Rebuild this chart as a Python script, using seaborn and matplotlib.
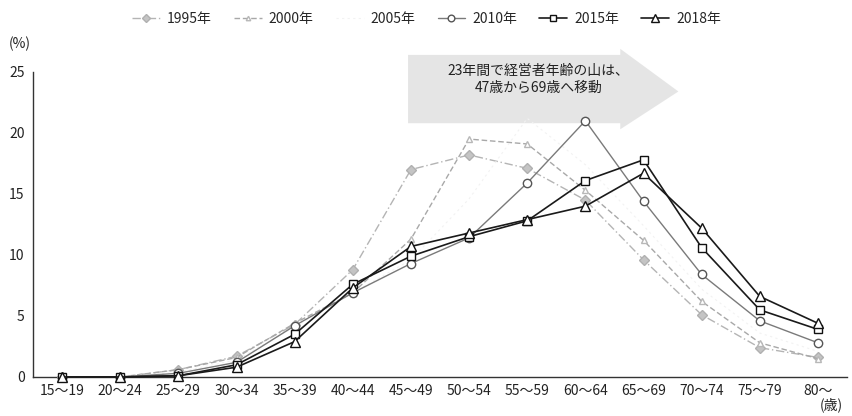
import matplotlib
matplotlib.use("Agg")
import matplotlib.pyplot as plt
import seaborn as sns
import pandas as pd
from matplotlib.patches import Polygon

sns.set_theme(style="white")
plt.rcParams["font.family"] = ["Noto Sans CJK JP", "DejaVu Sans"]

age_groups = ["15～19", "20～24", "25～29", "30～34", "35～39", "40～44", "45～49",
              "50～54", "55～59", "60～64", "65～69", "70～74", "75～79", "80～"]

share_1995 = [0.0, 0.0, 0.6, 1.7, 4.3, 8.8, 17.0, 18.2, 17.1, 14.5, 9.6, 5.1, 2.4, 1.6]
share_2000 = [0.0, 0.0, 0.6, 1.6, 4.4, 6.9, 11.3, 19.5, 19.1, 15.3, 11.2, 6.2, 2.8, 1.5]
share_2005 = [0.0, 0.0, 0.4, 1.4, 4.1, 6.9, 9.6, 14.6, 21.2, 17.4, 12.4, 7.2, 3.6, 2.1]
share_2010 = [0.0, 0.0, 0.3, 1.2, 4.2, 6.9, 9.3, 11.4, 15.9, 21.0, 14.4, 8.4, 4.6, 2.8]
share_2015 = [0.0, 0.0, 0.1, 1.0, 3.5, 7.6, 9.9, 11.5, 12.8, 16.1, 17.8, 10.6, 5.5, 3.9]
share_2018 = [0.0, 0.0, 0.1, 0.8, 2.9, 7.3, 10.7, 11.8, 12.9, 14.0, 16.7, 12.2, 6.6, 4.4]

years = ["1995年", "2000年", "2005年", "2010年", "2015年", "2018年"]
series = [share_1995, share_2000, share_2005, share_2010, share_2015, share_2018]

styles = {
    "1995年": dict(color="#b4b4b4", ls=(0, (6, 2, 1, 2)), lw=1.0, marker="D", ms=5,
                   mfc="#c4c4c4", mec="#b0b0b0"),
    "2000年": dict(color="#a8a8a8", ls=(0, (4, 2)), lw=1.0, marker="^", ms=4,
                   mfc="white", mec="#b8b8b8"),
    "2005年": dict(color="#f2f2f2", ls=(0, (2, 3)), lw=0.8, marker="", ms=0,
                   mfc="white", mec="#f2f2f2"),
    "2010年": dict(color="#7a7a7a", ls="-", lw=1.0, marker="o", ms=6,
                   mfc="white", mec="#555555"),
    "2015年": dict(color="#1a1a1a", ls="-", lw=1.2, marker="s", ms=6,
                   mfc="white", mec="#111111"),
    "2018年": dict(color="#1a1a1a", ls="-", lw=1.2, marker="^", ms=7,
                   mfc="white", mec="#111111"),
}

df = pd.DataFrame({
    "age": age_groups * len(years),
    "share": [v for s in series for v in s],
    "year": [y for y in years for _ in age_groups],
})

fig = plt.figure(figsize=(8.53, 4.16), dpi=100)
ax = fig.add_axes([0.0387, 0.0938, 0.9543, 0.7332])

for yr in years:
    st = styles[yr]
    sub = df[df["year"] == yr]
    sns.lineplot(data=sub, x="age", y="share", ax=ax, color=st["color"],
                 linestyle=st["ls"], linewidth=st["lw"], marker=st["marker"] or None,
                 markersize=st["ms"], markerfacecolor=st["mfc"],
                 markeredgecolor=st["mec"], markeredgewidth=1.0,
                 label=yr, clip_on=False, zorder=3, sort=False)

ax.set_xlim(-0.5, len(age_groups) - 0.5)
ax.set_ylim(0, 25)
ax.set_xlabel("")
ax.set_ylabel("")
ax.set_yticks([0, 5, 10, 15, 20, 25])
ax.set_xticks(range(len(age_groups)))
ax.set_xticklabels(age_groups)
ax.set_xticks([i + 0.5 for i in range(len(age_groups) - 1)], minor=True)
ax.tick_params(axis="x", which="major", length=0, labelsize=10, colors="#222222", pad=5)
ax.tick_params(axis="x", which="minor", length=5, direction="in", color="#333333", width=0.8)
ax.tick_params(axis="y", which="major", length=5, direction="in", labelsize=10,
               colors="#222222", width=0.8, pad=6)
for side in ["top", "right"]:
    ax.spines[side].set_visible(False)
for side in ["left", "bottom"]:
    ax.spines[side].set_color("#333333")
    ax.spines[side].set_linewidth(1.0)

# Legend across the top
handles, labels = ax.get_legend_handles_labels()
if ax.legend_:
    ax.legend_.remove()
fig.legend(handles, labels, loc="center", bbox_to_anchor=(0.5, 0.955), ncol=6,
           frameon=False, fontsize=10, handlelength=2.0, columnspacing=1.6,
           handletextpad=0.5, markerscale=0.8)

# Units
fig.text(0.01, 0.885, "(%)", fontsize=10, color="#222222")
fig.text(0.988, 0.008, "(歳)", fontsize=10, color="#222222", ha="right", va="bottom")

# Big shaded arrow with the note
arrow_pts = [(5.95, 26.4), (9.6, 26.4), (9.6, 26.9), (10.6, 23.4),
             (9.6, 20.3), (9.6, 20.8), (5.95, 20.8)]
ax.add_patch(Polygon(arrow_pts, closed=True, facecolor="#e3e3e3", edgecolor="none",
                     alpha=0.9, clip_on=False, zorder=1))
ax.text(8.2, 24.4, "23年間で経営者年齢の山は、\n47歳から69歳へ移動", ha="center",
        va="center", fontsize=10, color="#222222", linespacing=1.3, zorder=4)

fig.savefig("out.png", dpi=100)
